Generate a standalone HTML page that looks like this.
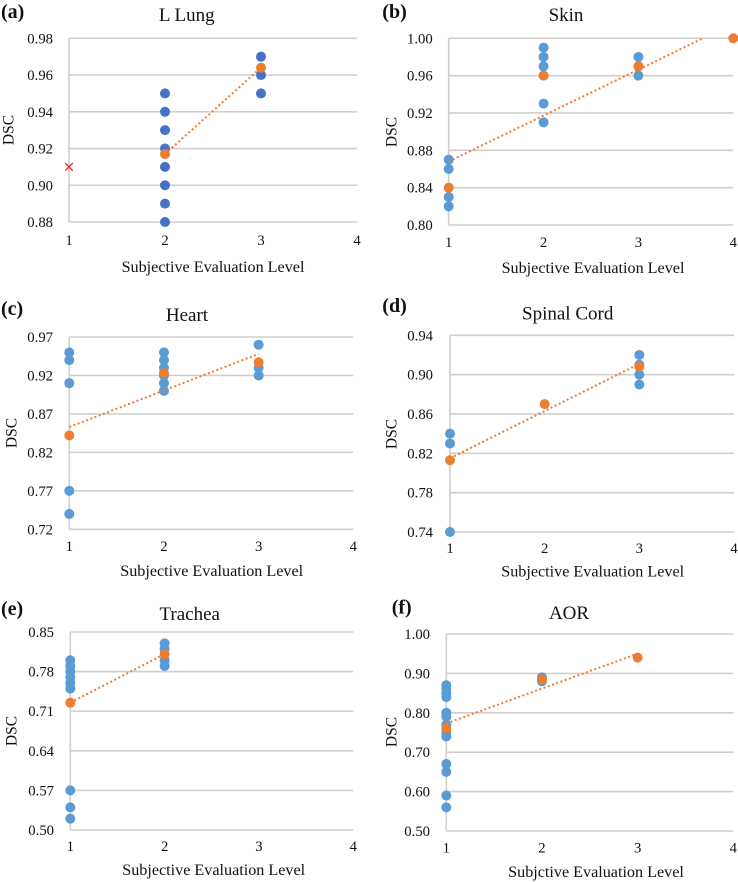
<!DOCTYPE html>
<html lang="en">
<head>
<meta charset="utf-8">
<title>DSC vs Subjective Evaluation Level</title>
<style>
html,body{margin:0;padding:0;background:#fff;}
svg{display:block;font-family:"Liberation Serif",serif;fill:#111;}
</style>
</head>
<body>
<svg id="figure" width="738" height="882" viewBox="0 0 738 882" xmlns="http://www.w3.org/2000/svg"></svg>
<script>
// Shared x axis
const levelTicks = [1, 2, 3, 4];

// (a) L Lung
const lungTicks = [0.88, 0.90, 0.92, 0.94, 0.96, 0.98];
const lungBlueLevels = [2, 2, 2, 2, 2, 2, 2, 2, 3, 3, 3];
const lungBlueDsc = [0.88, 0.89, 0.90, 0.91, 0.92, 0.93, 0.94, 0.95, 0.95, 0.96, 0.97];
const lungMeanLevels = [2, 3];
const lungMeanDsc = [0.917, 0.964];
const lungTrendLevels = [2, 3];
const lungTrendDsc = [0.917, 0.964];
const lungOutlierLevels = [1];
const lungOutlierDsc = [0.91];

// (b) Skin
const skinTicks = [0.80, 0.84, 0.88, 0.92, 0.96, 1.00];
const skinBlueLevels = [1, 1, 1, 1, 2, 2, 2, 2, 2, 2, 3, 3, 3];
const skinBlueDsc = [0.82, 0.83, 0.86, 0.87, 0.91, 0.93, 0.96, 0.97, 0.98, 0.99, 0.96, 0.97, 0.98];
const skinMeanLevels = [1, 2, 3, 4];
const skinMeanDsc = [0.84, 0.96, 0.97, 1.00];
const skinTrendLevels = [1, 3.68];
const skinTrendDsc = [0.868, 1.00];

// (c) Heart
const heartTicks = [0.72, 0.77, 0.82, 0.87, 0.92, 0.97];
const heartBlueLevels = [1, 1, 1, 1, 1, 2, 2, 2, 2, 2, 2, 3, 3, 3];
const heartBlueDsc = [0.74, 0.77, 0.91, 0.94, 0.95, 0.90, 0.91, 0.92, 0.93, 0.94, 0.95, 0.92, 0.93, 0.96];
const heartMeanLevels = [1, 2, 3];
const heartMeanDsc = [0.842, 0.923, 0.937];
const heartTrendLevels = [1, 3];
const heartTrendDsc = [0.853, 0.948];

// (d) Spinal Cord
const cordTicks = [0.74, 0.78, 0.82, 0.86, 0.90, 0.94];
const cordBlueLevels = [1, 1, 1, 3, 3, 3, 3];
const cordBlueDsc = [0.74, 0.83, 0.84, 0.89, 0.90, 0.91, 0.92];
const cordMeanLevels = [1, 2, 3];
const cordMeanDsc = [0.813, 0.87, 0.908];
const cordTrendLevels = [1, 3];
const cordTrendDsc = [0.815, 0.911];

// (e) Trachea
const tracheaTicks = [0.50, 0.57, 0.64, 0.71, 0.78, 0.85];
const tracheaBlueLevels = [1, 1, 1, 1, 1, 1, 1, 1, 1, 2, 2, 2, 2];
const tracheaBlueDsc = [0.52, 0.54, 0.57, 0.75, 0.76, 0.77, 0.78, 0.79, 0.80, 0.79, 0.80, 0.82, 0.83];
const tracheaMeanLevels = [1, 2];
const tracheaMeanDsc = [0.725, 0.811];
const tracheaTrendLevels = [1, 2];
const tracheaTrendDsc = [0.725, 0.811];

// (f) AOR
const aorTicks = [0.50, 0.60, 0.70, 0.80, 0.90, 1.00];
const aorBlueLevels = [1, 1, 1, 1, 1, 1, 1, 1, 1, 1, 1, 1, 1, 2, 2];
const aorBlueDsc = [0.56, 0.59, 0.65, 0.67, 0.74, 0.75, 0.77, 0.79, 0.80, 0.84, 0.85, 0.86, 0.87, 0.88, 0.89];
const aorMeanLevels = [1, 2, 3];
const aorMeanDsc = [0.76, 0.885, 0.94];
const aorTrendLevels = [1, 3];
const aorTrendDsc = [0.773, 0.95];

const NS = 'http://www.w3.org/2000/svg';
const root = document.getElementById('figure');

function shape(parent, tag, props) {
  const el = document.createElementNS(NS, tag);
  for (const k in props) el.setAttribute(k, props[k]);
  parent.appendChild(el);
  return el;
}

function drawPanel(p) {
  const yMin = Math.min(...p.ticks);
  const yMax = Math.max(...p.ticks);
  const sx = v => p.x1 + (v - 1) * (p.x4 - p.x1) / 3;
  const sy = v => p.yBottom - (v - yMin) * (p.yBottom - p.yTop) / (yMax - yMin);

  const g = shape(root, 'g', {});
  
  

  const letter = shape(g, 'text', {x: p.letterX, y: p.letterY, 'font-size': 20, 'font-weight': 'bold'});
  letter.textContent = p.letter;
  
  

  const title = shape(g, 'text', {x: p.titleX, y: p.titleY, 'font-size': 19, 'text-anchor': 'middle'});
  title.textContent = p.title;
  
  

  p.ticks.forEach(t => {
    const line = shape(g, 'line', {x1: sx(1), x2: sx(4), y1: sy(t), y2: sy(t), stroke: '#cfcfcf', 'stroke-width': 1.6});
    
    
    const label = shape(g, 'text', {x: p.tickRight, y: sy(t) + 5, 'font-size': 14.7, 'text-anchor': 'end'});
    label.textContent = t.toFixed(2);
    
    
  });

  const axis = shape(g, 'line', {x1: sx(1), x2: sx(1), y1: sy(yMax), y2: sy(yMin), stroke: '#cfcfcf', 'stroke-width': 1.6});
  
  

  levelTicks.forEach(t => {
    const label = shape(g, 'text', {x: sx(t), y: p.xTickY, 'font-size': 14.7, 'text-anchor': 'middle'});
    label.textContent = String(t);
    
    
  });

  const xTitle = shape(g, 'text', {x: p.xTitleX, y: p.xTitleY, 'font-size': 16.15, 'text-anchor': 'middle'});
  xTitle.textContent = p.xTitle;
  
  

  const yTitle = shape(g, 'text', {'font-size': 15.5, 'text-anchor': 'middle', transform: 'translate(' + (p.yTitleX + 5) + ' ' + p.yTitleY + ') rotate(-90)'});
  yTitle.textContent = 'DSC';
  
  

  p.blueLevels.forEach((lv, i) => {
    const dot = shape(g, 'circle', {cx: sx(lv), cy: sy(p.blueDsc[i]), r: 5, fill: p.blue});
    
    
  });

  const trend = shape(g, 'line', {x1: sx(p.trendLevels[0]), y1: sy(p.trendDsc[0]), x2: sx(p.trendLevels[1]), y2: sy(p.trendDsc[1]), stroke: '#ed7d31', 'stroke-width': 2, 'stroke-dasharray': '2 2.5'});
  
  

  p.meanLevels.forEach((lv, i) => {
    const dot = shape(g, 'circle', {cx: sx(lv), cy: sy(p.meanDsc[i]), r: 5, fill: '#ed7d31'});
    
    
  });

  (p.outlierLevels || []).forEach((lv, i) => {
    const cx = sx(lv);
    const cy = sy(p.outlierDsc[i]);
    const cross = shape(g, 'path', {d: 'M' + (cx - 3.8) + ' ' + (cy - 3.8) + 'L' + (cx + 3.8) + ' ' + (cy + 3.8) + 'M' + (cx - 3.8) + ' ' + (cy + 3.8) + 'L' + (cx + 3.8) + ' ' + (cy - 3.8), stroke: '#f01c24', 'stroke-width': 1.3, fill: 'none'});
    
    
  });
}

drawPanel({key: 'l-lung', letter: '(a)', title: 'L Lung', xTitle: 'Subjective Evaluation Level', blue: '#4472c4',
  x1: 69, x4: 357, yTop: 38.3, yBottom: 222, letterX: 1, letterY: 18, titleX: 186.7, titleY: 21,
  tickRight: 53, xTickY: 245, xTitleX: 213, xTitleY: 272, yTitleX: 8.7, yTitleY: 130,
  ticks: lungTicks, blueLevels: lungBlueLevels, blueDsc: lungBlueDsc, meanLevels: lungMeanLevels, meanDsc: lungMeanDsc,
  trendLevels: lungTrendLevels, trendDsc: lungTrendDsc, outlierLevels: lungOutlierLevels, outlierDsc: lungOutlierDsc});

drawPanel({key: 'skin', letter: '(b)', title: 'Skin', xTitle: 'Subjective Evaluation Level', blue: '#5b9bd5',
  x1: 448.7, x4: 733.3, yTop: 38.3, yBottom: 225, letterX: 382.3, letterY: 18, titleX: 566, titleY: 21,
  tickRight: 432.7, xTickY: 247, xTitleX: 593, xTitleY: 273, yTitleX: 391.7, yTitleY: 132,
  ticks: skinTicks, blueLevels: skinBlueLevels, blueDsc: skinBlueDsc, meanLevels: skinMeanLevels, meanDsc: skinMeanDsc,
  trendLevels: skinTrendLevels, trendDsc: skinTrendDsc});

drawPanel({key: 'heart', letter: '(c)', title: 'Heart', xTitle: 'Subjective Evaluation Level', blue: '#5b9bd5',
  x1: 69.3, x4: 353.3, yTop: 337, yBottom: 529.3, letterX: 1, letterY: 315, titleX: 187, titleY: 321,
  tickRight: 53, xTickY: 551, xTitleX: 211.7, xTitleY: 576, yTitleX: 11.3, yTitleY: 433,
  ticks: heartTicks, blueLevels: heartBlueLevels, blueDsc: heartBlueDsc, meanLevels: heartMeanLevels, meanDsc: heartMeanDsc,
  trendLevels: heartTrendLevels, trendDsc: heartTrendDsc});

drawPanel({key: 'spinal-cord', letter: '(d)', title: 'Spinal Cord', xTitle: 'Subjective Evaluation Level', blue: '#5b9bd5',
  x1: 450, x4: 734, yTop: 335.3, yBottom: 532, letterX: 382.3, letterY: 312, titleX: 567.7, titleY: 319.7,
  tickRight: 433, xTickY: 553, xTitleX: 592.7, xTitleY: 576.7, yTitleX: 391.7, yTitleY: 434,
  ticks: cordTicks, blueLevels: cordBlueLevels, blueDsc: cordBlueDsc, meanLevels: cordMeanLevels, meanDsc: cordMeanDsc,
  trendLevels: cordTrendLevels, trendDsc: cordTrendDsc});

drawPanel({key: 'trachea', letter: '(e)', title: 'Trachea', xTitle: 'Subjective Evaluation Level', blue: '#5b9bd5',
  x1: 70.3, x4: 353.3, yTop: 632, yBottom: 830, letterX: 1, letterY: 615, titleX: 189.7, titleY: 620,
  tickRight: 54, xTickY: 851, xTitleX: 213.7, xTitleY: 875, yTitleX: 11.3, yTitleY: 731,
  ticks: tracheaTicks, blueLevels: tracheaBlueLevels, blueDsc: tracheaBlueDsc, meanLevels: tracheaMeanLevels, meanDsc: tracheaMeanDsc,
  trendLevels: tracheaTrendLevels, trendDsc: tracheaTrendDsc});

drawPanel({key: 'aor', letter: '(f)', title: 'AOR', xTitle: 'Subjctive Evaluation Level', blue: '#5b9bd5',
  x1: 446.3, x4: 733.3, yTop: 634, yBottom: 831, letterX: 391.7, letterY: 613.7, titleX: 569, titleY: 619,
  tickRight: 430, xTickY: 852.7, xTitleX: 596, xTitleY: 877, yTitleX: 391.7, yTitleY: 732,
  ticks: aorTicks, blueLevels: aorBlueLevels, blueDsc: aorBlueDsc, meanLevels: aorMeanLevels, meanDsc: aorMeanDsc,
  trendLevels: aorTrendLevels, trendDsc: aorTrendDsc});
</script>
</body>
</html>
